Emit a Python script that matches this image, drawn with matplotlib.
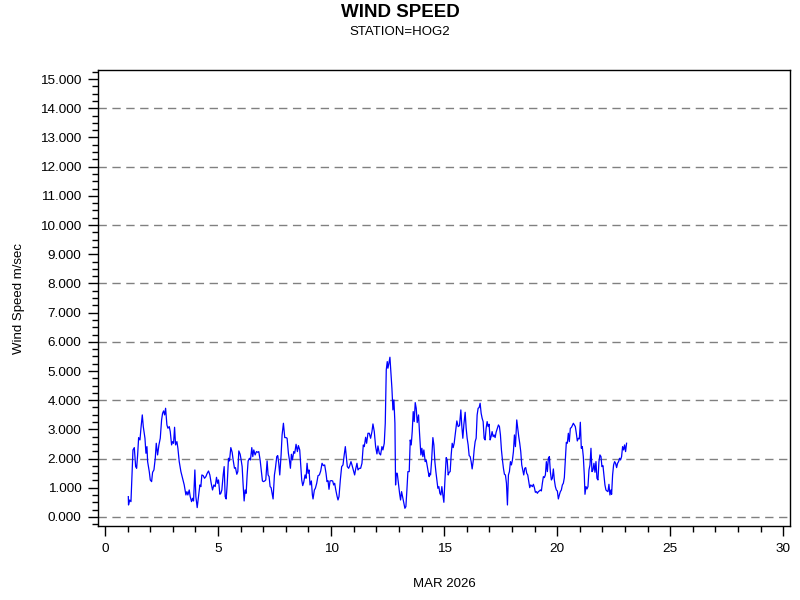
import matplotlib
matplotlib.use('Agg')
import matplotlib.pyplot as plt
from matplotlib.ticker import MultipleLocator, FormatStrFormatter

# day of month (fractional) and wind speed m/sec
days = [
    1.031, 1.040, 1.089, 1.148, 1.237, 1.296, 1.355, 1.399, 1.443, 1.487,
    1.546, 1.590, 1.649, 1.693, 1.767, 1.811, 1.855, 1.885, 1.958, 2.002,
    2.061, 2.105, 2.164, 2.223, 2.267, 2.326, 2.385, 2.444, 2.503, 2.547,
    2.591, 2.636, 2.680, 2.738, 2.783, 2.842, 2.886, 2.945, 2.989, 3.033,
    3.077, 3.121, 3.180, 3.224, 3.283, 3.357, 3.430, 3.504, 3.578, 3.622,
    3.666, 3.725, 3.769, 3.828, 3.872, 3.916, 3.975, 4.019, 4.078, 4.137,
    4.196, 4.240, 4.284, 4.343, 4.402, 4.461, 4.520, 4.579, 4.638, 4.697,
    4.756, 4.815, 4.874, 4.932, 4.977, 5.021, 5.080, 5.124, 5.168, 5.227,
    5.271, 5.315,
    5.359, 5.403, 5.462, 5.506, 5.565, 5.624, 5.668, 5.727, 5.771, 5.830,
    5.875, 5.919, 5.978, 6.022, 6.066, 6.110, 6.154, 6.198, 6.243, 6.287,
    6.331, 6.390, 6.434, 6.493, 6.537, 6.581, 6.640, 6.699, 6.758, 6.802,
    6.861, 6.920, 6.964, 7.008, 7.067, 7.111, 7.170, 7.214, 7.259, 7.303,
    7.347, 7.391, 7.435, 7.494, 7.538, 7.597, 7.641, 7.685, 7.730, 7.789,
    7.833, 7.892, 7.951, 8.009, 8.054, 8.112, 8.157, 8.201, 8.245, 8.289,
    8.348, 8.392, 8.451, 8.510, 8.554, 8.613, 8.657, 8.701, 8.746, 8.790,
    8.849, 8.893, 8.937, 8.981, 9.025, 9.069, 9.128, 9.173, 9.202, 9.261,
    9.305, 9.364, 9.423, 9.482, 9.541, 9.600, 9.658, 9.717, 9.776, 9.820,
    9.864, 9.908, 9.953, 10.011, 10.070, 10.115, 10.159, 10.203, 10.262,
    10.306, 10.350, 10.409, 10.468, 10.527, 10.571, 10.630, 10.674, 10.718,
    10.777, 10.821, 10.880, 10.924, 10.983, 11.042, 11.086, 11.145, 11.189,
    11.248, 11.307, 11.366, 11.425, 11.469, 11.528, 11.572, 11.631, 11.690,
    11.749, 11.808, 11.852, 11.911, 11.970, 12.029, 12.073, 12.132, 12.190,
    12.249, 12.294, 12.352, 12.397, 12.441, 12.485, 12.514, 12.558, 12.603,
    12.647, 12.691, 12.735, 12.779, 12.824, 12.853, 12.882, 12.927, 12.971,
    13.030, 13.074, 13.118, 13.162, 13.206, 13.265, 13.309, 13.354, 13.398,
    13.457, 13.501, 13.545, 13.589, 13.633, 13.678, 13.722, 13.766, 13.810,
    13.869, 13.913, 13.972, 14.016, 14.060, 14.104, 14.163, 14.207, 14.252,
    14.296, 14.340,
    14.356, 14.400, 14.444, 14.503, 14.547, 14.591, 14.635, 14.679, 14.724,
    14.768, 14.812, 14.856, 14.900, 14.944, 14.989, 15.033, 15.092, 15.136,
    15.180, 15.224, 15.268, 15.313, 15.357, 15.401, 15.445, 15.504, 15.563,
    15.622, 15.681, 15.740, 15.784, 15.828, 15.872, 15.931, 15.975, 16.019,
    16.063, 16.108, 16.152, 16.196, 16.240, 16.284, 16.328, 16.373, 16.417,
    16.461, 16.505, 16.549, 16.593, 16.638, 16.682, 16.726, 16.770, 16.814,
    16.858, 16.903, 16.947, 16.991, 17.035, 17.079, 17.123, 17.168, 17.212,
    17.256, 17.300, 17.359, 17.403, 17.447, 17.491, 17.536, 17.580, 17.624,
    17.668, 17.712, 17.758, 17.801, 17.845, 17.889, 17.933, 17.977, 18.022,
    18.066, 18.110, 18.154, 18.213, 18.257, 18.301, 18.345, 18.390, 18.434,
    18.478, 18.522, 18.566, 18.610, 18.655, 18.699, 18.743, 18.787, 18.831,
    18.905, 18.949, 18.993, 19.037, 19.081, 19.126, 19.170, 19.214, 19.258,
    19.302, 19.346, 19.391, 19.435, 19.479, 19.523, 19.567, 19.612, 19.656,
    19.700, 19.744, 19.788, 19.832, 19.876, 19.921, 19.965, 20.009, 20.053,
    20.097, 20.142, 20.186, 20.230, 20.274, 20.318, 20.362, 20.406, 20.451,
    20.495, 20.539, 20.583, 20.627, 20.671, 20.716, 20.760, 20.804, 20.848,
    20.892, 20.936, 20.981, 21.025, 21.069, 21.113, 21.157, 21.201, 21.231,
    21.275, 21.319, 21.363, 21.408, 21.452, 21.496, 21.540, 21.584, 21.628,
    21.673, 21.717, 21.761, 21.805, 21.849, 21.893, 21.938, 21.982, 22.026,
    22.070, 22.114, 22.158, 22.203, 22.247, 22.291, 22.335, 22.379, 22.409,
    22.453, 22.497, 22.541, 22.585, 22.630, 22.674, 22.718, 22.762, 22.806,
    22.850, 22.895, 22.939, 22.983, 23.027, 23.071,
]
speed = [
    0.697, 0.411, 0.582, 0.525, 2.296, 2.376, 1.725, 1.668, 2.125, 2.719,
    2.639, 3.039, 3.496, 3.096, 2.696, 2.182, 2.410, 1.896, 1.554, 1.268,
    1.211, 1.531, 1.611, 2.011, 2.525, 2.125, 2.468, 2.696, 3.325, 3.553,
    3.633, 3.496, 3.724, 3.153, 3.039, 3.096, 2.924, 2.468, 2.582, 2.525,
    3.073, 2.468, 2.582, 2.353, 1.896, 1.554, 1.325, 1.097, 0.754, 0.868,
    0.754, 0.925, 0.697, 0.525, 0.640, 0.548, 1.611, 0.697, 0.320, 0.697,
    1.097, 1.040, 1.439, 1.416, 1.325, 1.382, 1.496, 1.576, 1.439, 1.154,
    0.925, 1.097, 1.040, 1.359, 1.154, 1.268, 0.777, 0.811, 0.925, 1.439,
    1.725, 0.697,
    0.617, 1.097, 2.011, 1.919, 2.376, 2.216, 1.953, 1.668, 1.691, 1.462,
    1.554, 2.262, 2.148, 1.953, 1.725, 1.097, 0.548, 0.925, 0.811, 1.439,
    1.919, 2.011, 1.953, 2.376, 2.068, 2.296, 2.125, 2.239, 2.216, 2.239,
    1.953, 1.554, 1.234, 1.211, 1.234, 1.268, 1.919, 1.439, 1.382, 1.040,
    1.005, 0.811, 0.617, 1.439, 1.668, 2.068, 2.102, 1.839, 1.439, 2.125,
    2.810, 3.210, 2.719, 2.719, 2.696, 2.182, 1.953, 1.668, 2.148, 1.953,
    2.239, 2.182, 2.490, 2.239, 2.445, 2.296, 1.782, 1.268, 1.074, 1.188,
    1.439, 1.325, 1.839, 1.496, 1.611, 1.097, 1.234, 0.754, 0.617, 0.925,
    0.982, 1.154, 1.416, 1.439, 1.576, 1.839, 1.759, 1.782, 1.496, 1.211,
    1.245, 0.948, 1.233, 1.245, 1.233, 1.096, 1.153, 0.948, 0.719,
    0.582, 0.697, 1.268, 1.725, 1.782, 2.067, 2.410, 2.067, 1.725,
    1.667, 1.747, 1.896, 1.782, 1.610, 1.439, 1.633, 1.839, 1.610,
    1.667, 1.667, 1.839, 2.467, 2.410, 2.730, 2.524, 2.867, 2.867,
    2.696, 2.924, 3.187, 2.924, 2.410, 2.159, 2.433, 2.182, 2.124,
    2.410, 2.296, 2.524, 3.210, 5.038, 5.323, 5.095, 5.266, 5.472,
    4.923, 4.409, 3.667, 4.009, 3.210, 1.096, 1.496, 1.496, 1.211,
    0.811, 0.582, 0.868, 0.697, 0.525, 0.297, 0.354, 0.925, 1.553,
    1.553, 2.638, 2.467, 2.924, 3.610, 3.267, 3.918, 3.724, 3.233,
    3.495, 2.867, 2.124, 2.353, 2.067, 2.296, 1.896, 1.953, 1.747,
    1.553, 1.382,
    1.496, 1.439, 1.896, 2.719, 2.468, 1.896, 1.554, 1.268, 0.982,
    1.040, 0.811, 0.754, 1.040, 0.754, 0.503, 1.211, 2.033, 1.953,
    1.439, 1.531, 1.554, 2.125, 2.525, 2.376, 2.525, 2.924, 3.290,
    3.096, 3.130, 3.667, 3.096, 2.696, 3.153, 3.587, 3.039, 2.696,
    2.468, 2.102, 2.068, 1.896, 1.645, 1.896, 2.296, 2.582, 2.696,
    3.496, 3.724, 3.747, 3.895, 3.553, 3.381, 3.267, 2.696, 2.639,
    3.039, 3.267, 3.096, 3.176, 2.639, 2.753, 2.924, 2.753, 2.810,
    2.719, 2.902, 3.039, 3.153, 3.096, 2.810, 2.296, 1.953, 1.668,
    1.462, 1.439, 1.154, 0.411, 1.439, 1.554, 1.896, 1.782, 1.953,
    2.239, 2.810, 2.410, 3.324, 3.039, 2.753, 2.525, 2.239, 1.782,
    1.611, 1.439, 1.668, 1.691, 1.496, 1.439, 1.211, 1.005, 1.097,
    1.040, 1.119, 1.005, 0.845, 0.868, 0.811, 0.868, 0.891, 0.925,
    0.891, 1.154, 1.382, 1.348, 1.439, 1.896, 1.554, 2.011, 2.068,
    1.554, 1.268, 1.325, 1.645, 1.268, 1.040, 0.925, 0.891, 0.617,
    0.754, 0.868, 0.925, 1.097, 1.154, 1.348, 1.953, 2.559, 2.525,
    2.867, 2.582, 3.039, 3.062, 3.130, 3.210, 3.153, 3.096, 2.867,
    2.604, 2.696, 2.673, 3.244, 2.353, 2.410, 2.068, 1.439, 0.777,
    1.040, 0.959, 1.040, 1.611, 1.782, 2.353, 1.554, 1.611, 1.839,
    1.531, 1.896, 1.325, 1.268, 1.896, 2.125, 2.068, 1.725, 1.759,
    1.439, 1.097, 0.925, 0.891, 0.868, 1.119, 0.754, 0.925, 0.777,
    1.439, 1.782, 1.896, 1.839, 1.691, 1.839, 1.896, 2.011, 1.953,
    2.068, 2.410, 2.296, 2.468, 2.239, 2.525,
]

title = 'WIND SPEED'
subtitle = 'STATION=HOG2'
month_label = 'MAR 2026'

plt.rcParams['font.family'] = ['Liberation Sans', 'DejaVu Sans']
plt.rcParams['font.size'] = 9.5

fig = plt.figure(figsize=(8, 6), dpi=100)
ax = fig.add_axes([0.1225, 0.1233, 0.8650, 0.7600])

# dashed reference lines every 2 m/sec
for g in range(0, 15, 2):
    ax.axhline(g, color='#808080', linestyle=(0, (6, 4)), linewidth=1, zorder=1)

ax.plot(days, speed, color='#0000ff', linewidth=0.9, zorder=2)

ax.set_xlim(-0.31, 30.3)
ax.set_ylim(-0.31, 15.31)
ax.xaxis.set_major_locator(MultipleLocator(5))
ax.xaxis.set_minor_locator(MultipleLocator(1))
ax.yaxis.set_major_locator(MultipleLocator(1))
ax.yaxis.set_minor_locator(MultipleLocator(0.25))
ax.yaxis.set_major_formatter(FormatStrFormatter('%.3f'))
ax.tick_params(which='major', direction='out', length=7, width=1, labelsize=9.7, pad=5)
ax.tick_params(which='minor', direction='out', length=4, width=1)
for s in ax.spines.values():
    s.set_linewidth(1)

ax.set_ylabel('Wind Speed m/sec', fontsize=9.5, labelpad=11)
ax.set_xlabel(month_label, fontsize=9.5, labelpad=17)

fig.text(0.5, 0.979, title, ha='center', va='center', fontsize=13.5, fontweight='bold')
fig.text(0.5, 0.947, subtitle, ha='center', va='center', fontsize=9.5)

plt.savefig('out.png', dpi=100)
plt.close()
